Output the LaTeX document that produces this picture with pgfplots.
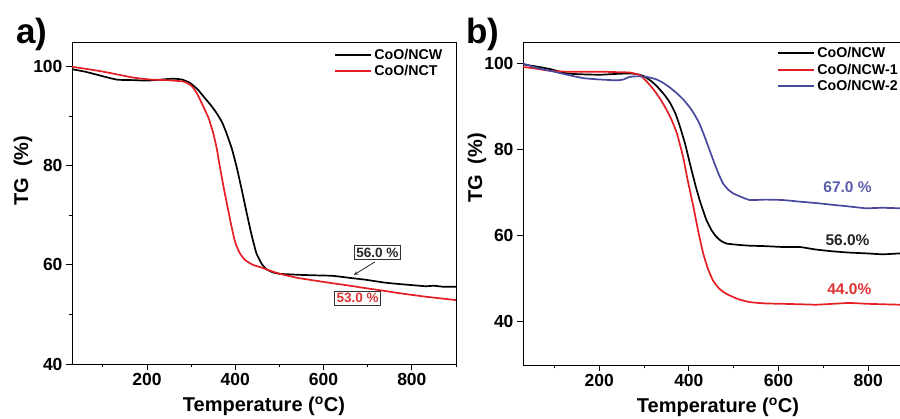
\documentclass[border=0pt]{standalone}
\usepackage{fontspec}
\setmainfont{Liberation Sans}
\usepackage{pgfplots}
\pgfplotsset{compat=1.18}
\definecolor{myred}{RGB}{228,30,36}
\definecolor{myblue}{RGB}{72,72,158}
\definecolor{annred}{RGB}{222,50,50}
\definecolor{annblue}{RGB}{92,92,172}
\pgfplotsset{
  legend image code/.code={\draw[#1,line width=2pt] (0pt,0pt) -- (36pt,0pt);},
}
\pgfplotsset{
  tg/.style={
    scale only axis,
    xmin=30, xmax=900, ymax=105,
    tick align=outside, tick pos=left,
    major tick length=6pt, minor tick length=3.5pt,
    xtick={200,400,600,800}, minor xtick={100,300,500,700,900},
    ytick={40,60,80,100},
    ticklabel style={font=\fontsize{17.5}{20}\selectfont\bfseries},
    /pgf/number format/assume math mode=true,
    axis line style={line width=0.9pt},
    every tick/.style={line width=0.9pt, black},
    xlabel={Temperature (\textsuperscript{o}C)},
    xlabel style={font=\fontsize{20}{24}\selectfont\bfseries, at={(axis description cs:0.5,0)}, anchor=base, yshift=-48pt},
    ylabel={TG~~(\%)},
    legend style={draw=none, fill=none, font=\fontsize{14.2}{16}\selectfont\bfseries, anchor=north west, inner sep=0pt, row sep=0.5pt, column sep=0pt},
    legend cell align=left,
    every axis plot/.append style={line width=1.7pt},
  }
}
\begin{document}
\begin{tikzpicture}
\useasboundingbox (0,0) rectangle (900pt,419pt);
\node[anchor=base west, font=\fontsize{35}{40}\selectfont\bfseries, inner sep=0pt] at (16pt,375pt) {a)};
\node[anchor=base west, font=\fontsize{35}{40}\selectfont\bfseries, inner sep=0pt] at (466pt,375pt) {b)};
% panel a
\begin{axis}[tg, at={(72pt,55pt)}, anchor=south west, width=384pt, height=322pt,
  ymin=40, minor ytick={50,70,90},
  ylabel style={font=\fontsize{20}{24}\selectfont\bfseries, at={(axis description cs:-0.1276,0.6)}, anchor=center},
  legend style={at={(axis description cs:0.683,0.985)}}]
\addplot[black, smooth, tension=0.3] coordinates {
(30,99.5) (60,99.0) (95,98.2) (132,97.4) (170,97.3) (200,97.2) (230,97.4) (260,97.6) (280,97.4)
(298,96.7) (315,95.4) (328,94.0) (345,92.2) (358,90.6) (370,88.8) (380,86.6) (392,83.5) (403,79.8)
(415,75.0) (426,70.4) (437,66.0) (448,62.3) (460,60.2) (471,59.1) (485,58.5) (501,58.2) (545,58.0)
(580,57.9) (620,57.8) (658,57.4) (696,57.0) (741,56.4) (790,56.0) (831,55.7) (850,55.8) (870,55.6) (900,55.6)};
\addlegendentry{CoO/NCW}
\addplot[myred, smooth, tension=0.3] coordinates {
(30,100.0) (60,99.6) (95,99.1) (130,98.5) (170,97.8) (210,97.4) (245,97.3) (283,97.0) (300,96.2)
(312,94.8) (328,91.9) (340,89.5) (350,86.6) (358,83.5) (365,79.8) (375,75.0) (384,71.0) (392,67.5)
(400,64.5) (410,62.4) (422,61.0) (440,60.0) (455,59.6) (480,58.8) (501,58.2) (540,57.4) (583,56.8)
(620,56.3) (660,55.8) (696,55.3) (735,54.8) (771,54.3) (830,53.6) (870,53.2) (900,52.9)};
\addlegendentry{CoO/NCT}
\node[draw=black!80, line width=0.6pt, inner sep=2pt, font=\fontsize{13.5}{15}\selectfont\bfseries, text=black!85] at (axis cs:722,62.5) {56.0 \%};
\draw[-stealth, line width=0.8pt, black!85] (axis cs:716,60.6) -- (axis cs:669,58.0);
\node[draw=black!80, line width=0.6pt, inner sep=2pt, font=\fontsize{13.5}{15}\selectfont\bfseries, text=annred] at (axis cs:677,53.3) {53.0 \%};
\end{axis}
% panel b
\begin{axis}[tg, at={(523pt,54pt)}, anchor=south west, width=390pt, height=323pt,
  ymin=30,
  ylabel style={font=\fontsize{20}{24}\selectfont\bfseries, at={(axis description cs:-0.118,0.61)}, anchor=center},
  legend style={at={(axis description cs:0.652,0.99)}}]
\addplot[black, smooth, tension=0.3] coordinates {
(30,99.8) (60,99.3) (91,98.7) (128,97.7) (160,97.5) (202,97.4) (240,97.6) (269,97.7) (285,97.5)
(299,97.1) (315,96.0) (328,94.8) (345,92.8) (358,90.9) (370,88.4) (380,85.4) (392,81.2) (402,76.9)
(414,72.0) (424,68.3) (432,65.8) (439,63.7) (450,61.4) (461,59.8) (472,58.8) (484,58.2) (510,57.9)
(536,57.7) (570,57.6) (610,57.4) (647,57.4) (684,56.8) (720,56.4) (758,56.1) (800,55.9) (832,55.7) (871,55.9) (900,55.9)};
\addlegendentry{CoO/NCW}
\addplot[myred, smooth, tension=0.3] coordinates {
(30,99.2) (60,98.8) (91,98.3) (128,98.1) (165,98.1) (202,98.1) (240,98.0) (269,97.9) (291,97.3)
(306,95.8) (321,94.0) (336,91.8) (350,89.3) (362,86.8) (373,83.9) (380,81.2) (387,78.4) (398,72.6)
(410,66.8) (421,61.0) (432,55.9) (443,52.2) (454,49.6) (468,47.7) (484,46.5) (510,45.3) (536,44.6)
(570,44.3) (610,44.2) (650,44.1) (684,44.0) (720,44.2) (758,44.4) (800,44.2) (871,44.0) (900,44.0)};
\addlegendentry{CoO/NCW-1}
\addplot[myblue, smooth, tension=0.3] coordinates {
(30,100.0) (60,99.0) (91,98.3) (128,97.4) (165,96.6) (200,96.3) (239,96.1) (254,96.3) (265,96.8)
(276,97.0) (299,97.0) (315,96.7) (328,96.3) (343,95.5) (358,94.4) (372,93.2) (387,91.7) (400,90.1)
(410,88.6) (422,86.4) (432,83.9) (443,80.8) (454,77.7) (465,74.7) (476,72.2) (487,70.8) (498,69.9)
(515,69.1) (536,68.3) (570,68.4) (610,68.3) (650,67.9) (684,67.6) (720,67.2) (758,66.8) (795,66.4)
(830,66.5) (871,66.4) (900,66.4)};
\addlegendentry{CoO/NCW-2}
\node[font=\fontsize{15.5}{17}\selectfont\bfseries, text=annblue] at (axis cs:754,71.4) {67.0 \%};
\node[font=\fontsize{15.5}{17}\selectfont\bfseries, text=black!85] at (axis cs:754,59.1) {56.0\%};
\node[font=\fontsize{15.5}{17}\selectfont\bfseries, text=annred] at (axis cs:758,47.5) {44.0\%};
\end{axis}
\end{tikzpicture}
\end{document}
